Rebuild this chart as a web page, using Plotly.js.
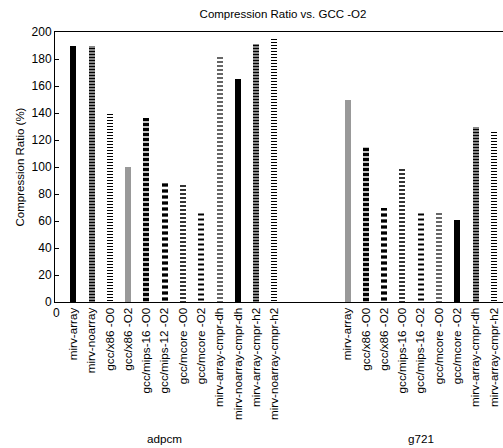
<!DOCTYPE html>
<html><head><meta charset="utf-8">
<script src="https://cdn.plot.ly/plotly-3.0.1.min.js"></script>
<style>html,body{margin:0;padding:0;background:#fff;}</style>
</head><body>
<div id="chart" style="width:503px;height:448px;"></div>
<script>
// Data
const groups = ["adpcm", "g721"];
const adpcmLabels = ["mirv-array","mirv-noarray","gcc/x86 -O0","gcc/x86 -O2","gcc/mips-16 -O0","gcc/mips-12 -O2","gcc/mcore -O0","gcc/mcore -O2","mirv-array-cmpr-dh","mirv-noarray-cmpr-dh","mirv-array-cmpr-h2","mirv-noarray-cmpr-h2"];
const adpcmValues = [190, 190, 141, 100, 136, 90, 88, 66, 182, 165, 191, 196];
const g721Labels = ["mirv-array","gcc/x86 -O0","gcc/x86 -O2","gcc/mips-16 -O0","gcc/mips-16 -O2","gcc/mcore -O0","gcc/mcore -O2","mirv-array-cmpr-dh","mirv-array-cmpr-h2"];
const g721Values = [150, 115, 70, 100, 66, 67, 61, 130, 126];
const adpcmStart = 1, g721Start = 16;
const groupCenters = [6, 20];
const yTicks = [0,20,40,60,80,100,120,140,160,180,200];

// Pattern cycle (9 styles, gnuplot-like)
const styles = [
  {shape:"", size:4, solidity:0.5, fg:"#000"},
  {shape:"-", size:3, solidity:0.65, fg:"#000"},
  {shape:"-", size:3, solidity:0.35, fg:"#000"},
  {shape:"-", size:2, solidity:0.5, fg:"#333"},
  {shape:"-", size:5, solidity:0.7, fg:"#000"},
  {shape:"-", size:6, solidity:0.55, fg:"#000"},
  {shape:"-", size:4, solidity:0.4, fg:"#000"},
  {shape:"-", size:5, solidity:0.4, fg:"#000"},
  {shape:"-", size:4, solidity:0.3, fg:"#000"}
];

const xs = [], ys = [], labels = [];
adpcmLabels.forEach((l,i)=>{xs.push(adpcmStart+i); ys.push(adpcmValues[i]); labels.push(l);});
g721Labels.forEach((l,i)=>{xs.push(g721Start+i); ys.push(g721Values[i]); labels.push(l);});
const st = xs.map((_,i)=>styles[i%styles.length]);

const trace = {
  type:"bar", x: xs, y: ys, width: 0.33,
  marker:{
    color: "#000",
    line:{width:0},
    pattern:{
      shape: st.map(s=>s.shape),
      size: st.map(s=>s.size),
      solidity: st.map(s=>s.solidity),
      fgcolor: st.map(s=>s.fg),
      bgcolor: "#fff",
      fillmode: "replace"
    }
  },
  hoverinfo:"skip"
};

const fam = "Liberation Sans, Arial, sans-serif";
const layout = {
  width:503, height:448,
  margin:{l:55, r:0, t:32, b:146, autoexpand:false},
  paper_bgcolor:"#fff", plot_bgcolor:"#fff",
  showlegend:false, bargap:0,
  font:{family:fam, size:11, color:"#000"},
  title:{text:"Compression Ratio vs. GCC -O2", font:{family:fam, size:11.5, color:"#000"}, x:0.5626, xanchor:"center", y:0.968, yanchor:"middle"},
  xaxis:{
    range:[0, 24.5], tickmode:"array", tickvals: xs, ticktext: labels,
    tickangle:-90, ticks:"", showgrid:false, zeroline:false, automargin:false,
    showline:true, linecolor:"#000", linewidth:1, mirror:true,
    tickfont:{family:fam, size:11.7, color:"#000"}
  },
  yaxis:{
    range:[0,200], tickmode:"array", tickvals:yTicks, automargin:false,
    ticks:"inside", ticklen:4, tickcolor:"#000",
    showgrid:false, zeroline:false, showline:true, linecolor:"#000", linewidth:1,
    tickfont:{family:fam, size:12, color:"#000"},
    title:{text:"Compression Ratio (%)", font:{family:fam, size:11.5, color:"#000"}, standoff:4}
  },
  annotations:[
    {text:"0", x:0, y:0, xref:"x", yref:"y", showarrow:false, yshift:-11, xshift:1, font:{family:fam, size:12, color:"#000"}},
    {text:groups[0], x:groupCenters[0], xref:"x", y:-0.504, yref:"paper", yanchor:"middle", showarrow:false, font:{family:fam, size:11.7, color:"#000"}},
    {text:groups[1], x:groupCenters[1], xref:"x", y:-0.504, yref:"paper", yanchor:"middle", showarrow:false, font:{family:fam, size:11.7, color:"#000"}}
  ]
};
Plotly.newPlot("chart",[trace],layout,{displayModeBar:false, staticPlot:true});
</script>
</body></html>
